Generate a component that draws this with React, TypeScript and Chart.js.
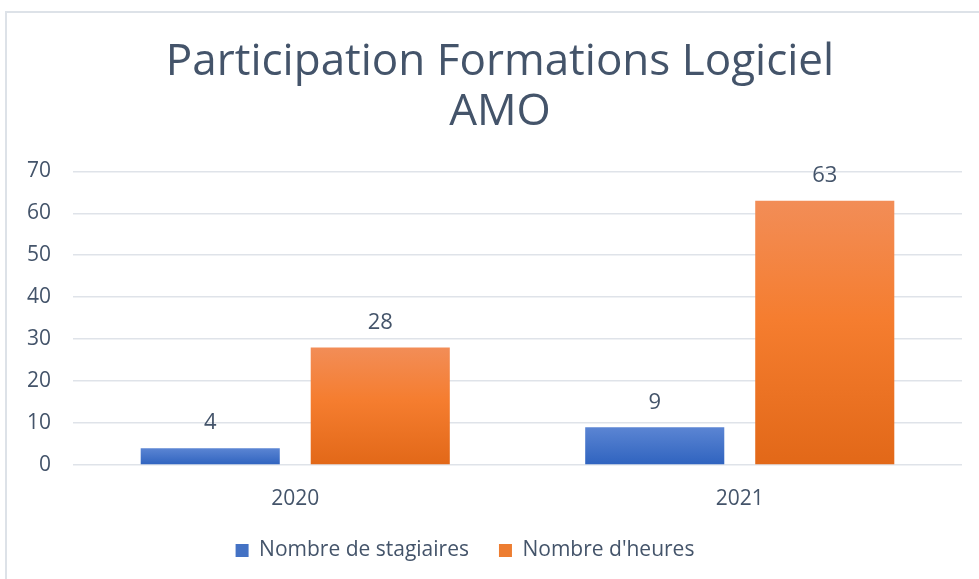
import React, { useEffect, useRef } from "react";
import { Chart, registerables } from "chart.js";

Chart.register(...registerables);

const categories = ["2020", "2021"];
const stagiaires = [4, 9];
const heures = [28, 63];
const seriesNames = ["Nombre de stagiaires", "Nombre d'heures"];
const titleLines = ["Participation Formations Logiciel", "AMO"];
const yMax = 70;
const yStep = 10;

const FONT = "'Open Sans', Lato, sans-serif";
const TEXT = "#44546a";

function barGradient(c: any, fallback: string, stops: [number, string][]) {
  const chart = c.chart;
  const ys = chart.scales && chart.scales.y;
  if (!ys || !chart.chartArea) return fallback;
  const v = c.raw;
  const top = ys.getPixelForValue(v);
  const base = ys.getPixelForValue(0);
  if (!isFinite(top) || !isFinite(base) || top === base) return fallback;
  const g = chart.ctx.createLinearGradient(0, top, 0, base);
  stops.forEach(([o, col]) => g.addColorStop(o, col));
  return g;
}

const dataLabelPlugin = {
  id: "dataLabels",
  afterDatasetsDraw(chart: any) {
    const ctx = chart.ctx;
    ctx.save();
    ctx.font = `22px ${FONT}`;
    ctx.fillStyle = TEXT;
    ctx.textAlign = "center";
    ctx.textBaseline = "middle";
    chart.data.datasets.forEach((ds: any, i: number) => {
      const meta = chart.getDatasetMeta(i);
      meta.data.forEach((bar: any, j: number) => {
        ctx.fillText(String(ds.data[j]), bar.x, bar.y - 25);
      });
    });
    ctx.restore();
  },
};

// Nudge title and legend horizontally to match the original's off-centre placement
const nudgePlugin = {
  id: "nudge",
  afterLayout(chart: any) {
    const t = chart.titleBlock;
    if (t) {
      t.left += 19;
      t.right += 19;
    }
    const l = chart.legend;
    if (l) {
      l.left -= 16;
      l.right -= 16;
    }
  },
};

export default function App() {
  const ref = useRef<HTMLCanvasElement>(null);
  useEffect(() => {
    if (!ref.current) return;
    const chart = new Chart(ref.current, {
      type: "bar",
      data: {
        labels: categories,
        datasets: [
          {
            label: seriesNames[0],
            data: stagiaires,
            backgroundColor: (c: any) =>
              barGradient(c, "#4472c4", [
                [0, "#5b85d3"],
                [1, "#2f63bf"],
              ]),
            categoryPercentage: 0.765,
            barPercentage: 0.818,
          },
          {
            label: seriesNames[1],
            data: heures,
            backgroundColor: (c: any) =>
              barGradient(c, "#ed7d31", [
                [0, "#f28d57"],
                [0.45, "#f57d2f"],
                [1, "#e26818"],
              ]),
            categoryPercentage: 0.765,
            barPercentage: 0.818,
          },
        ],
      },
      options: {
        animation: false,
        responsive: false,
        layout: { padding: { left: 0, right: 17, top: 0, bottom: 8 } },
        plugins: {
          tooltip: { enabled: false },
          title: {
            display: true,
            text: titleLines,
            color: TEXT,
            font: { family: FONT, size: 44, weight: "normal" as any, lineHeight: 1.14 },
            padding: { top: 37, bottom: 34 },
          },
          legend: {
            position: "bottom",
            labels: {
              color: TEXT,
              font: { family: FONT, size: 21 },
              boxWidth: 13,
              boxHeight: 13,
              padding: 30,
              generateLabels: (chart: any) =>
                chart.data.datasets.map((ds: any, i: number) => ({
                  text: ds.label,
                  fillStyle: i === 0 ? "#4472c4" : "#ed7d31",
                  strokeStyle: "rgba(0,0,0,0)",
                  lineWidth: 0,
                  datasetIndex: i,
                  fontColor: TEXT,
                })),
            },
          },
        },
        scales: {
          x: {
            grid: { display: false },
            border: { display: false },
            ticks: { color: TEXT, font: { family: FONT, size: 21 }, padding: 13 },
            afterFit: (s: any) => {
              s.height = 45;
            },
          },
          y: {
            min: 0,
            max: yMax,
            ticks: {
              stepSize: yStep,
              color: TEXT,
              font: { family: FONT, size: 21 },
              padding: 22,
            },
            grid: { color: "#dfe3e9", lineWidth: 1.5, drawTicks: false },
            border: { display: false },
            afterFit: (s: any) => {
              s.width = 73;
            },
          },
        },
      },
      plugins: [dataLabelPlugin, nudgePlugin],
    });
    return () => chart.destroy();
  }, []);
  return (
    <div style={{ position: "fixed", left: 0, top: 0, width: 979, height: 579, background: "#fff" }}>
      <div
        style={{
          position: "absolute",
          left: 5,
          top: 11,
          width: 990,
          height: 600,
          border: "2px solid #dde2e8",
          boxSizing: "border-box",
        }}
      />
      <canvas ref={ref} width={979} height={579} style={{ position: "absolute", left: 0, top: 0 }} />
    </div>
  );
}
